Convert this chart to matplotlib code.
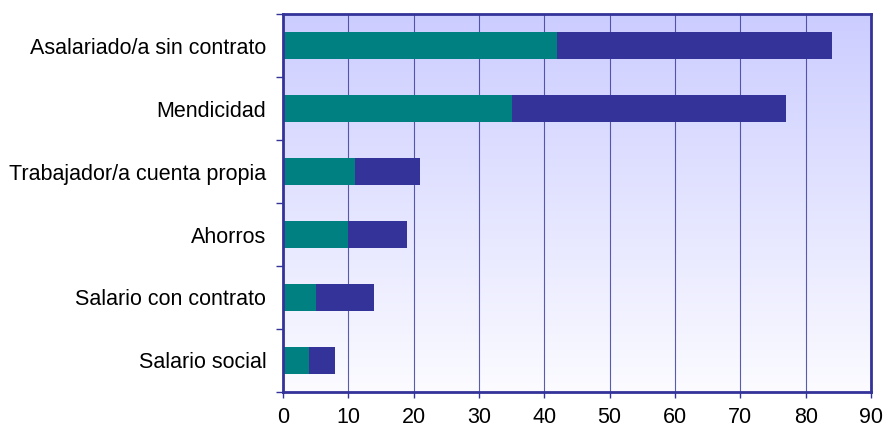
import numpy as np
import matplotlib.pyplot as plt
from matplotlib.colors import LinearSegmentedColormap

plt.rcParams['font.family'] = ['Liberation Sans', 'DejaVu Sans']

categorias = ["Asalariado/a sin contrato", "Mendicidad", "Trabajador/a cuenta propia",
              "Ahorros", "Salario con contrato", "Salario social"]
serie1 = [42, 35, 11, 10, 5, 4]
serie2 = [42, 42, 10, 9, 9, 4]

frame = '#333399'
fig = plt.figure(figsize=(8.83, 4.30), dpi=100)
ax = fig.add_axes([0.3205, 0.0884, 0.6659, 0.879])

# gradient background
cmap = LinearSegmentedColormap.from_list('bg', ['#cccdff', '#fbfbff'])
grad = np.linspace(0, 1, 256).reshape(-1, 1)
ax.imshow(grad, cmap=cmap, aspect='auto', extent=[0, 90, 5.5, -0.5], zorder=0)

y = np.arange(len(categorias))
ax.barh(y, serie1, height=0.42, color='#008080', zorder=3)
ax.barh(y, serie2, left=serie1, height=0.42, color='#333399', zorder=3)

ax.set_xlim(0, 90)
ax.set_ylim(5.5, -0.5)
ax.set_xticks(range(0, 91, 10))
ax.set_yticks(y)
ax.set_yticklabels(categorias)
ax.set_yticks(np.arange(-0.5, 6, 1), minor=True)
ax.tick_params(axis='y', which='major', length=0, pad=12, labelsize=15.5)
ax.tick_params(axis='y', which='minor', length=5, width=1, color=frame, direction='out')
ax.tick_params(axis='x', length=4, width=1, color=frame, pad=7, labelsize=15.5)

ax.grid(axis='x', color=frame, linewidth=0.8, alpha=0.8, zorder=1)
for s in ax.spines.values():
    s.set_color(frame)
    s.set_linewidth(2)
    s.set_zorder(4)

fig.savefig('out.png', dpi=100)
